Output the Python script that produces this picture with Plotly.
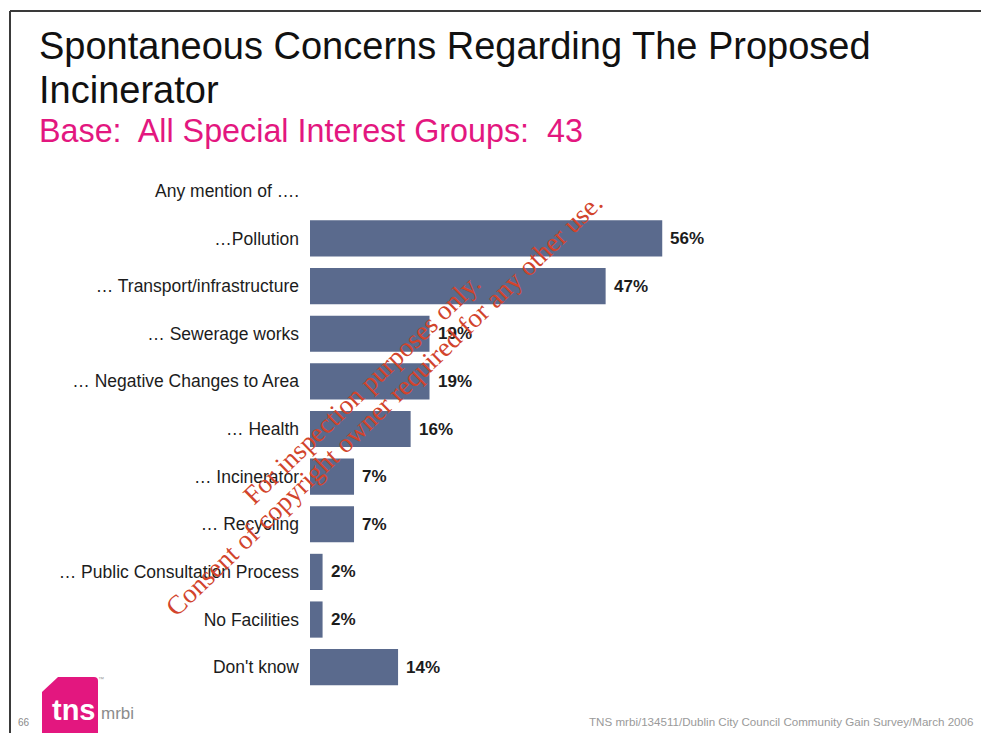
import plotly.graph_objects as go

# Survey responses: spontaneous concerns about the proposed incinerator
categories = [
    "Any mention of ….",
    "…Pollution",
    "… Transport/infrastructure",
    "… Sewerage works",
    "… Negative Changes to Area",
    "… Health",
    "… Incinerator",
    "… Recycling",
    "… Public Consultation Process",
    "No Facilities",
    "Don't know",
]
values = [None, 56, 47, 19, 19, 16, 7, 7, 2, 2, 14]

title_line1 = "Spontaneous Concerns Regarding The Proposed"
title_line2 = "Incinerator"
subtitle = "Base:  All Special Interest Groups:  43"
footer = "TNS mrbi/134511/Dublin City Council Community Gain Survey/March 2006"
page_number = "66"
watermark_1 = "For inspection purposes only."
watermark_2 = "Consent of copyright owner required for any other use."

W, H = 981, 733
ML, MR, MT, MB = 310, 42, 167, 42
PW, PH = W - ML - MR, H - MT - MB


def px(x):
    return (x - ML) / PW


def py(y):
    return 1 - (y - MT) / PH


BAR = "#5a6a8d"
MAGENTA = "#e3177f"
TEXT = "#1c1c1c"

fig = go.Figure(
    go.Bar(
        x=values,
        y=categories,
        orientation="h",
        marker=dict(color=BAR, line=dict(width=0)),
        hoverinfo="skip",
    )
)

fig.update_layout(
    width=W,
    height=H,
    margin=dict(l=ML, r=MR, t=MT, b=MB),
    paper_bgcolor="white",
    plot_bgcolor="white",
    showlegend=False,
    bargap=0.24,
    xaxis=dict(range=[0, 100], visible=False, fixedrange=True),
    yaxis=dict(
        autorange="reversed",
        showgrid=False,
        showline=False,
        zeroline=False,
        ticks="",
        ticklabelstandoff=10,
        tickfont=dict(family="Liberation Sans", size=17.5, color=TEXT),
        fixedrange=True,
    ),
)

# value labels just past the end of each bar
annotations = [
    dict(text=f"{v}%", x=v, y=c, xref="x", yref="y", xanchor="left", yanchor="middle",
         xshift=6, showarrow=False,
         font=dict(family="Liberation Sans", size=17, color=TEXT, weight="bold"))
    for c, v in zip(categories, values) if v is not None
]

page_text = [
    dict(text=title_line1, x=px(37), y=py(46), xanchor="left", yanchor="middle",
         font=dict(family="Liberation Sans", size=38, color="#111111")),
    dict(text=title_line2, x=px(37), y=py(90), xanchor="left", yanchor="middle",
         font=dict(family="Liberation Sans", size=38, color="#111111")),
    dict(text=subtitle, x=px(37), y=py(131), xanchor="left", yanchor="middle",
         font=dict(family="Liberation Sans", size=32.3, color=MAGENTA)),
    dict(text=footer, x=px(975), y=py(721), xanchor="right", yanchor="middle",
         font=dict(family="Liberation Sans", size=11.6, color="#9a9a9a")),
    dict(text=page_number, x=px(24), y=py(722), xanchor="center", yanchor="middle",
         font=dict(family="Liberation Sans", size=10, color="#8a8a8a")),
    dict(text="<b>tns</b>", x=px(74), y=py(710), xanchor="center", yanchor="middle",
         font=dict(family="Liberation Sans", size=29, color="white")),
    dict(text="mrbi", x=px(99), y=py(713), xanchor="left", yanchor="middle",
         font=dict(family="Liberation Sans Narrow, Liberation Sans", size=17, color="#8c8c8c")),
    dict(text="™", x=px(101), y=py(679), xanchor="center", yanchor="middle",
         font=dict(family="Liberation Sans", size=6, color="#999999")),
    # diagonal watermark drawn over the chart
    dict(text=watermark_1, x=px(362), y=py(389), xanchor="center", yanchor="middle",
         textangle=-44, font=dict(family="Liberation Serif", size=27, color="#d2442c")),
    dict(text=watermark_2, x=px(384), y=py(405), xanchor="center", yanchor="middle",
         textangle=-44, font=dict(family="Liberation Serif", size=27, color="#d2442c")),
]
for a in page_text:
    a.update(xref="paper", yref="paper", showarrow=False)
fig.update_layout(annotations=annotations + page_text)

shapes = [
    # page frame: top and left rules
    dict(type="line", x0=px(10), x1=px(981), y0=py(11), y1=py(11),
         line=dict(color="#3a3a3a", width=2)),
    dict(type="line", x0=px(10), x1=px(10), y0=py(11), y1=py(733),
         line=dict(color="#3a3a3a", width=2)),
    # logo block with chamfered top-left corner
    dict(type="path", layer="below",
         path=(f"M {px(42)} {py(692)} L {px(58)} {py(677)} L {px(94)} {py(677)} "
               f"Q {px(98)} {py(677)} {px(98)} {py(681)} L {px(98)} {py(733)} "
               f"L {px(42)} {py(733)} Z"),
         fillcolor=MAGENTA, line=dict(width=0)),
]
for s in shapes:
    s.update(xref="paper", yref="paper")
fig.update_layout(shapes=shapes)

fig.write_html("out.html")
